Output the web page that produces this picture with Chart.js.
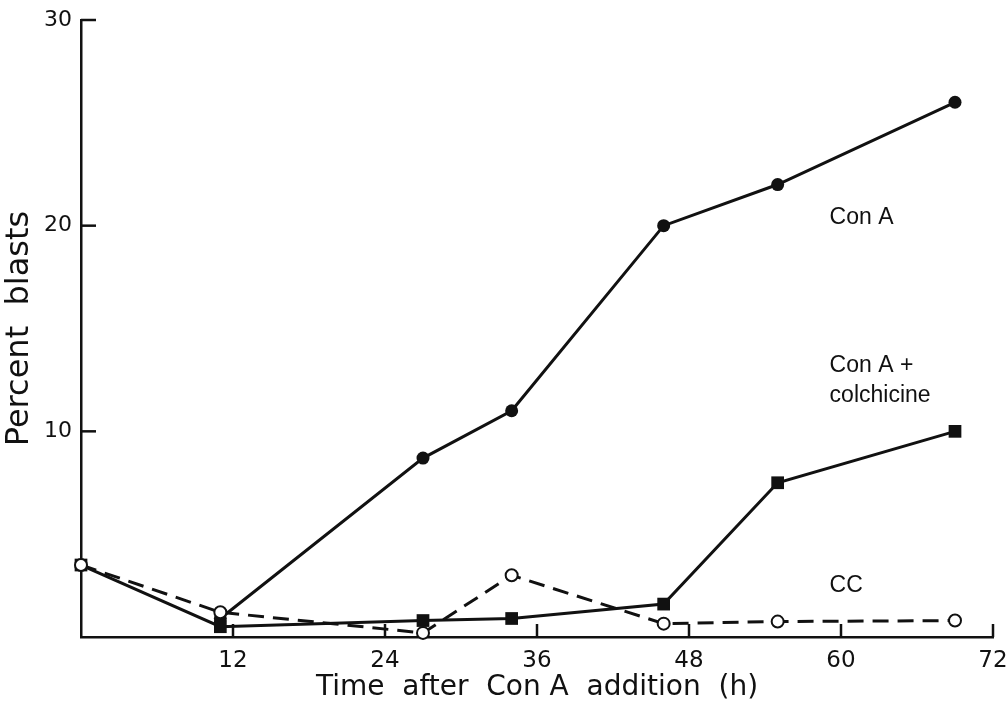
<!doctype html>
<html>
<head>
	<title>Percent blasts</title>
	<script src="https://cdn.jsdelivr.net/npm/chart.js@4/dist/chart.umd.min.js"></script>
	<style type="text/css">
		html, body { margin: 0; padding: 0; background: #fff; }
		#container { width: 1008px; height: 705px; }
	</style>
</head>
<body>
	<div id="container">
		<canvas id="canvas" width="1008" height="705"></canvas>
	</div>
	<script>
		// hours after Con A addition
		var hoursConA = [11, 27, 34, 46, 55, 69];
		var hoursAll = [0, 11, 27, 34, 46, 55, 69];
		// percent blasts
		var conA = [0.9, 8.7, 11, 20, 22, 26];
		var conAColchicine = [3.5, 0.5, 0.8, 0.9, 1.6, 7.5, 10];
		var cc = [3.5, 1.2, 0.2, 3.0, 0.65, 0.75, 0.8];
		var xTicks = [12, 24, 36, 48, 60, 72];
		var yTicks = [10, 20, 30];
		var curveLabels = [
			{ text: 'Con A', x: 59.1, y: 20.4 },
			{ text: 'Con A +', x: 59.1, y: 13.2 },
			{ text: 'colchicine', x: 59.1, y: 11.75 },
			{ text: 'CC', x: 59.1, y: 2.5 }
		];

		function pts(xs, ys) {
			return xs.map(function(x, i) { return { x: x, y: ys[i] }; });
		}

		var ink = '#111';

		// inward tick marks and the curve names
		var figureMarks = {
			id: 'figureMarks',
			afterDraw: function(chart) {
				var ctx = chart.ctx;
				var xs = chart.scales.x, ys = chart.scales.y;
				var area = chart.chartArea;
				ctx.save();
				ctx.strokeStyle = ink;
				ctx.lineWidth = 2.5;
				xTicks.forEach(function(v) {
					var px = xs.getPixelForValue(v);
					ctx.beginPath();
					ctx.moveTo(px, area.bottom);
					ctx.lineTo(px, area.bottom - 13);
					ctx.stroke();
				});
				yTicks.forEach(function(v) {
					var py = ys.getPixelForValue(v);
					ctx.beginPath();
					ctx.moveTo(area.left, py);
					ctx.lineTo(area.left + 15, py);
					ctx.stroke();
				});
				ctx.fillStyle = ink;
				ctx.font = '23px "Liberation Sans", Arial, sans-serif';
				ctx.textAlign = 'left';
				ctx.textBaseline = 'middle';
				curveLabels.forEach(function(l) {
					ctx.fillText(l.text, xs.getPixelForValue(l.x), ys.getPixelForValue(l.y));
				});
				ctx.restore();
			}
		};

		window.onload = function() {
			var ctx = document.getElementById('canvas').getContext('2d');
			window.myChart = new Chart(ctx, {
				type: 'line',
				data: {
					datasets: [{
						label: 'CC',
						data: pts(hoursAll, cc),
						borderColor: ink,
						borderWidth: 3,
						borderDash: [16, 9],
						pointStyle: 'circle',
						pointRadius: 6,
						pointBorderWidth: 2,
						pointBackgroundColor: '#fff',
						pointBorderColor: ink,
						clip: false
					}, {
						label: 'Con A + colchicine',
						data: pts(hoursAll, conAColchicine),
						borderColor: ink,
						borderWidth: 3,
						pointStyle: 'rect',
						pointRadius: 9,
						pointBorderWidth: 0,
						pointBackgroundColor: ink,
						clip: false
					}, {
						label: 'Con A',
						data: pts(hoursConA, conA),
						borderColor: ink,
						borderWidth: 3,
						pointStyle: 'circle',
						pointRadius: 6.5,
						pointBorderWidth: 0,
						pointBackgroundColor: ink,
						clip: false
					}]
				},
				options: {
					responsive: false,
					animation: false,
					layout: { padding: { left: 0, top: 20, right: 15, bottom: 0 } },
					plugins: {
						legend: { display: false },
						tooltip: { enabled: false }
					},
					scales: {
						x: {
							type: 'linear',
							min: 0,
							max: 72,
							afterFit: function(scale) {
								scale.height = 68;
								scale.paddingLeft = 0;
								scale.paddingRight = 0;
							},
							grid: { display: false, drawTicks: false },
							border: { display: true, color: ink, width: 2.5 },
							ticks: {
								stepSize: 12,
								padding: 10,
								color: ink,
								font: { family: '"DejaVu Sans", sans-serif', size: 23 },
								callback: function(v) { return v === 0 ? '' : v; }
							},
							title: {
								display: true,
								text: 'Time  after  Con A  addition  (h)',
								color: ink,
								padding: { top: -3, bottom: 0 },
								font: { family: '"DejaVu Sans", sans-serif', size: 28 }
							}
						},
						y: {
							min: 0,
							max: 30,
							afterFit: function(scale) {
								scale.width = 81;
								scale.paddingTop = 0;
								scale.paddingBottom = 0;
							},
							grid: { display: false, drawTicks: false },
							border: { display: true, color: ink, width: 2.5 },
							ticks: {
								stepSize: 10,
								padding: 9,
								color: ink,
								font: { family: '"DejaVu Sans", sans-serif', size: 22 },
								callback: function(v) { return v === 0 ? '' : v; }
							},
							title: {
								display: true,
								text: 'Percent  blasts',
								color: ink,
								padding: { top: 0, bottom: 2 },
								font: { family: '"DejaVu Sans", sans-serif', size: 32 }
							}
						}
					}
				},
				plugins: [figureMarks]
			});
		};
	</script>
</body>
</html>
